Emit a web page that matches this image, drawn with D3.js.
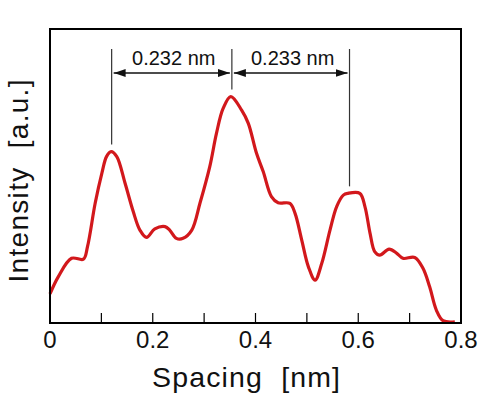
<!DOCTYPE html>
<html>
<head>
<meta charset="utf-8">
<script src="https://cdn.jsdelivr.net/npm/d3@7"></script>
<style>
  body { margin: 0; background: #fff; }
  text { font-family: "Liberation Sans", Arial, sans-serif; fill: #111; }
</style>
</head>
<body>
<svg id="chart" width="489" height="394"></svg>
<script>
// line profile
const spacing = [0, 0.016, 0.042, 0.065, 0.073, 0.088, 0.101, 0.110, 0.119, 0.130,
  0.146, 0.162, 0.175, 0.188, 0.204, 0.224, 0.233, 0.246, 0.259, 0.276,
  0.292, 0.311, 0.324, 0.337, 0.352, 0.373, 0.386, 0.402, 0.415, 0.431,
  0.444, 0.467, 0.477, 0.490, 0.503, 0.516, 0.529, 0.545, 0.558, 0.571,
  0.580, 0.603, 0.613, 0.623, 0.632, 0.642, 0.660, 0.675, 0.687, 0.710,
  0.726, 0.739, 0.752, 0.765, 0.788];
const intensity = [9.9, 15.7, 22.0, 21.7, 26.0, 40.8, 51.0, 56.6, 58.3, 56.6,
  47.6, 37.9, 31.6, 29.1, 32.0, 32.8, 31.6, 28.8, 28.8, 31.6,
  40.8, 53.2, 64.5, 73.0, 77.0, 72.4, 67.9, 57.7, 51.5, 43.0,
  40.9, 40.7, 37.3, 28.2, 19.1, 14.6, 20.3, 31.6, 39.6, 43.5,
  44.1, 44.1, 39.6, 30.5, 24.3, 23.1, 25.1, 23.7, 22.0, 22.3,
  18.6, 12.3, 4.4, 0.8, 0.4];

const xTicks = [0, 0.2, 0.4, 0.6, 0.8];
const xMinorTicks = [0.1, 0.2, 0.3, 0.4, 0.5, 0.6, 0.7];

// peak positions and the spacings written between them
const peaks = [0.120, 0.354, 0.583];
const peakLabels = ["0.232 nm", "0.233 nm"];

const svg = d3.select("#chart");
const m = { left: 50, right: 461, top: 29, bottom: 323 };

const x = d3.scaleLinear().domain([0, 0.8]).range([m.left, m.right]);
const y = d3.scaleLinear().domain([0, 100]).range([m.bottom, m.top]);

// profile
const line = d3.line()
  .x((d, i) => x(spacing[i]))
  .y(d => y(d))
  .curve(d3.curveCatmullRom.alpha(0.5));

svg.append("path")
  .attr("d", line(intensity))
  .attr("fill", "none")
  .attr("stroke", "#d2181c")
  .attr("stroke-width", 3.2)
  .attr("stroke-linejoin", "round");

// frame
svg.append("rect")
  .attr("x", m.left).attr("y", m.top)
  .attr("width", m.right - m.left).attr("height", m.bottom - m.top)
  .attr("fill", "none")
  .attr("stroke", "#000")
  .attr("stroke-width", 2);

// inward ticks on the bottom edge
svg.append("g").selectAll("line")
  .data(xMinorTicks)
  .join("line")
  .attr("x1", d => x(d)).attr("x2", d => x(d))
  .attr("y1", m.bottom).attr("y2", m.bottom - 10)
  .attr("stroke", "#000")
  .attr("stroke-width", 1.2);

svg.append("g").selectAll("text")
  .data(xTicks)
  .join("text")
  .attr("x", d => x(d))
  .attr("y", 348)
  .attr("text-anchor", "middle")
  .attr("font-size", 24)
  .text(d => d === 0 ? "0" : d3.format(".1f")(d));

// axis titles
svg.append("text")
  .attr("x", 152).attr("y", 387)
  .attr("font-size", 28.5)
  .attr("textLength", 188)
  .attr("lengthAdjust", "spacing")
  .style("white-space", "pre")
  .text("Spacing  [nm]");

svg.append("text")
  .attr("transform", "translate(28,181) rotate(-90)")
  .attr("text-anchor", "middle")
  .attr("font-size", 28)
  .attr("textLength", 203)
  .attr("lengthAdjust", "spacing")
  .style("white-space", "pre")
  .text("Intensity  [a.u.]");

// peak markers
const peakHeight = p => {
  let best = 0;
  spacing.forEach((s, i) => { if (Math.abs(s - p) < Math.abs(spacing[best] - p)) best = i; });
  return intensity[best];
};

svg.append("g").selectAll("line")
  .data(peaks)
  .join("line")
  .attr("x1", d => x(d)).attr("x2", d => x(d))
  .attr("y1", 49)
  .attr("y2", d => y(peakHeight(d)) - 7)
  .attr("stroke", "#333")
  .attr("stroke-width", 1.2);

const defs = svg.append("defs");
defs.append("marker")
  .attr("id", "head")
  .attr("viewBox", "0 0 12 8")
  .attr("refX", 12).attr("refY", 4)
  .attr("markerWidth", 12).attr("markerHeight", 8)
  .attr("markerUnits", "userSpaceOnUse")
  .attr("orient", "auto-start-reverse")
  .append("path")
  .attr("d", "M0,0L12,4L0,8Z")
  .attr("fill", "#111");

const arrowY = 73;
peakLabels.forEach((lab, i) => {
  const a = x(peaks[i]) + 2, b = x(peaks[i + 1]) - 2;
  svg.append("line")
    .attr("x1", a).attr("x2", b)
    .attr("y1", arrowY).attr("y2", arrowY)
    .attr("stroke", "#111")
    .attr("stroke-width", 1.5)
    .attr("marker-start", "url(#head)")
    .attr("marker-end", "url(#head)");
  svg.append("text")
    .attr("x", (a + b) / 2 + 2)
    .attr("y", 65)
    .attr("text-anchor", "middle")
    .attr("font-size", 20)
    .text(lab);
});
</script>
</body>
</html>
